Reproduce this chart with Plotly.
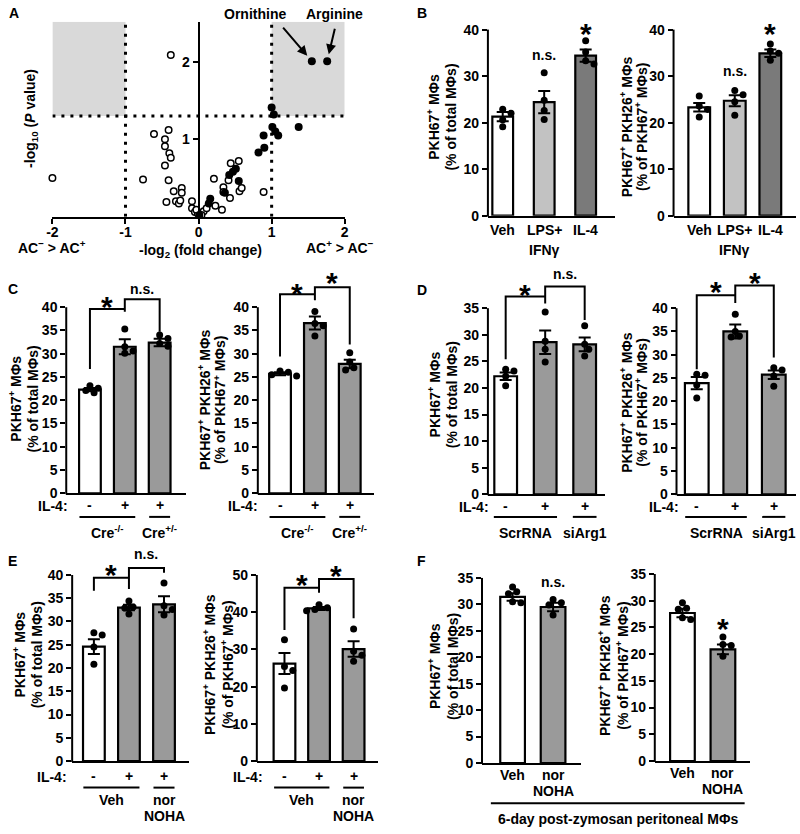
import plotly.graph_objects as go

W, H = 800, 834
FAM = "Liberation Sans, Arial, Helvetica, sans-serif"

# ---------------- Panel A data (volcano) ----------------
A_OPEN_X = [-0.38, -2.00, -0.61, -0.41, -0.46, -0.46, -0.40, -0.38, -0.46, -0.76,
            -0.41, -0.34, -0.23, -0.23, -0.44, -0.31, -0.27, -0.25, -0.09, -0.09,
            -0.05, -0.01, 0.07, 0.11, 0.21, 0.23, 0.32, 0.34, 0.34, 0.43,
            0.41, 0.44, 0.55, 0.56, 0.59, 0.89, 0.04, -0.03]
A_OPEN_Y = [2.09, 0.50, 1.07, 1.12, 1.00, 0.91, 0.82, 0.76, 0.66, 0.48,
            0.47, 0.33, 0.37, 0.31, 0.19, 0.20, 0.17, 0.21, 0.20, 0.11,
            0.06, 0.04, 0.07, 0.11, 0.49, 0.14, 0.09, 0.38, 0.32, 0.24,
            0.47, 0.69, 0.72, 0.33, 0.37, 0.32, 0.02, 0.09]
A_FILL_X = [1.55, 1.76, 1.00, 1.03, 1.01, 1.05, 1.09, 1.37, 0.89, 0.90, 0.82,
            0.42, 0.47, 0.51, 0.55, 0.36, 0.16, 0.14, 0.01]
A_FILL_Y = [2.01, 2.01, 1.41, 1.32, 1.16, 1.10, 1.05, 1.16, 1.05, 0.89, 0.83,
            0.54, 0.58, 0.62, 0.46, 0.31, 0.23, 0.17, 0.02]
A_X_TICKS = [-2, -1, 0, 1, 2]
A_X_TICKTEXT = ["-2", "-1", "0", "1", "2"]
A_Y_TICKS = [1, 2]
A_X_RANGE = [-2, 2]
A_Y_TOP = 2.52
A_P_CUT = 1.3
A_FC_CUT = 1.0
A_LABELED = [("Ornithine", 1.55, 2.01), ("Arginine", 1.76, 2.01)]

# ---------------- Bar panel data ----------------
B_CATS = ["Veh", "LPS+<br>IFNγ", "IL-4"]
B1_MEAN = [21.3, 24.4, 34.4]
B1_SEM = [1.0, 2.4, 1.3]
B1_PTS = [[22.9, 22.0, 20.6, 19.1], [30.7, 24.8, 22.6, 20.7], [37.6, 35.2, 33.3, 32.6]]
B2_MEAN = [23.3, 24.7, 34.9]
B2_SEM = [0.9, 1.2, 0.8]
B2_PTS = [[25.7, 23.6, 22.8, 21.2], [26.9, 26.0, 24.5, 21.6], [36.9, 35.4, 34.9, 33.4]]

IL4_CATS = ["-", "+", "+"]
C1_MEAN = [22.3, 31.5, 32.4]
C1_SEM = [0.35, 1.6, 0.8]
C1_PTS = [[23.1, 22.6, 22.1, 21.6], [35.3, 31.5, 30.6, 30.1], [34.0, 33.3, 32.2, 31.6]]
C2_MEAN = [25.7, 36.6, 27.8]
C2_SEM = [0.3, 1.4, 0.9]
C2_PTS = [[26.3, 26.0, 25.5, 25.2], [39.1, 36.5, 36.0, 33.8], [30.2, 28.2, 27.0, 26.5]]
D1_MEAN = [22.2, 28.6, 28.2]
D1_SEM = [0.7, 2.2, 1.3]
D1_PTS = [[23.5, 23.2, 22.2, 20.4], [34.3, 28.8, 27.3, 24.9], [31.7, 28.2, 27.3, 26.0]]
D2_MEAN = [23.9, 35.0, 25.7]
D2_SEM = [1.3, 1.5, 0.9]
D2_PTS = [[25.8, 25.6, 23.5, 20.7], [38.7, 35.0, 34.0, 33.8], [27.2, 26.7, 25.4, 23.2]]
E1_MEAN = [24.6, 33.0, 33.7]
E1_SEM = [1.6, 0.6, 1.7]
E1_PTS = [[27.6, 27.1, 24.5, 20.8], [34.4, 33.1, 32.9, 31.6], [38.3, 33.4, 32.6, 31.4]]
E2_MEAN = [26.2, 41.0, 30.1]
E2_SEM = [2.8, 0.4, 2.1]
E2_PTS = [[32.6, 25.4, 24.3, 19.6], [42.0, 41.2, 40.7, 40.4], [35.5, 29.5, 28.4, 26.8]]
F_CATS = ["Veh", "nor<br>NOHA"]
F1_MEAN = [31.4, 29.5]
F1_SEM = [0.7, 0.8]
F1_PTS = [[33.3, 32.4, 32.0, 30.5, 30.3], [30.9, 30.3, 29.9, 28.0]]
F2_MEAN = [27.7, 20.9]
F2_SEM = [0.8, 0.9]
F2_PTS = [[29.6, 28.6, 28.4, 26.8, 26.5], [23.2, 21.8, 21.6, 19.6]]

C_GROUPS = ["Cre<sup>-/-</sup>", "Cre<sup>+/-</sup>"]
D_GROUPS = ["ScrRNA", "siArg1"]
E_GROUPS = ["Veh", "nor<br>NOHA"]
T1 = ["PKH67<sup>+</sup> MΦs", "(% of total MΦs)"]
T2 = ["PKH67<sup>+</sup> PKH26<sup>+</sup> MΦs", "(% of PKH67<sup>+</sup> MΦs)"]

# ---------------- styles ----------------
WHITE, LIGHT, DARK, GRAY = "white", "#c2c2c2", "#7a7a7a", "#9a9a9a"
FONT14 = dict(family=FAM, size=14, color="black", weight="bold")


def xp(px):
    return px / W


def yp(py):
    return 1 - py / H


def aname(k, n):
    return k + ("axis" if n == 1 else f"axis{n}")


def rname(k, n):
    return k if n == 1 else f"{k}{n}"


fig = go.Figure()
layout = dict(width=W, height=H, autosize=False, margin=dict(l=0, r=0, t=0, b=0),
              paper_bgcolor="white", plot_bgcolor="rgba(0,0,0,0)", showlegend=False,
              font=dict(family=FAM, size=14, color="black", weight="bold"))
shapes, annos = [], []


def text(x, y, s, size=14, angle=0, xref="paper", yref="paper", **kw):
    d = dict(x=x, y=y, xref=xref, yref=yref, text=s, showarrow=False, textangle=angle,
             font=dict(family=FAM, size=size, color="black", weight="bold"),
             xanchor="center", yanchor="middle")
    d.update(kw)
    annos.append(d)


# ================= Panel A =================
AX_DOM = [xp(47), xp(343)]
layout["xaxis"] = dict(domain=AX_DOM, range=A_X_RANGE, anchor="y", showline=True, linewidth=2,
                       linecolor="black", ticks="outside", ticklen=5, tickwidth=2, tickcolor="black",
                       tickvals=A_X_TICKS, ticktext=A_X_TICKTEXT, showgrid=False, zeroline=False,
                       tickfont=FONT14, ticklabelstandoff=-3)
zero_pos = AX_DOM[0] + (0 - A_X_RANGE[0]) / (A_X_RANGE[1] - A_X_RANGE[0]) * (AX_DOM[1] - AX_DOM[0])
layout["yaxis"] = dict(domain=[yp(215), yp(17)], range=[0, A_Y_TOP], anchor="free", position=zero_pos,
                       showline=True, linewidth=2, linecolor="black", ticks="outside", ticklen=5,
                       tickwidth=2, tickcolor="black", tickvals=A_Y_TICKS, showgrid=False,
                       zeroline=False, tickfont=FONT14)
for x0, x1 in [(A_X_RANGE[0], -A_FC_CUT), (A_FC_CUT, A_X_RANGE[1])]:
    shapes.append(dict(type="rect", xref="x", yref="y", x0=x0, x1=x1, y0=A_P_CUT, y1=A_Y_TOP,
                       fillcolor="#d9d9d9", line=dict(width=0), layer="below"))
DOT = dict(color="black", width=3, dash="3px,6px")
for xv in (-A_FC_CUT, A_FC_CUT):
    shapes.append(dict(type="line", xref="x", yref="y", x0=xv, x1=xv, y0=0, y1=A_Y_TOP, line=DOT))
shapes.append(dict(type="line", xref="x", yref="y", x0=A_X_RANGE[0], x1=A_X_RANGE[1],
                   y0=A_P_CUT, y1=A_P_CUT, line=DOT))
fig.add_trace(go.Scatter(x=A_OPEN_X, y=A_OPEN_Y, mode="markers", xaxis="x", yaxis="y",
                         marker=dict(size=6.5, color="white", line=dict(color="black", width=1.5)),
                         cliponaxis=False, hoverinfo="skip"))
fig.add_trace(go.Scatter(x=A_FILL_X, y=A_FILL_Y, mode="markers", xaxis="x", yaxis="y",
                         marker=dict(size=8, color="black"), cliponaxis=False, hoverinfo="skip"))
arrow_off = [(-30, -35), (8, -34)]
label_px = [(252, 9), (333, 9)]
for (name, vx, vy), (ax_, ay_), (lx, ly) in zip(A_LABELED, arrow_off, label_px):
    annos.append(dict(x=vx, y=vy, xref="x", yref="y", text="", showarrow=True, ax=ax_, ay=ay_,
                      arrowhead=2, arrowsize=1, arrowwidth=2, arrowcolor="black", standoff=7))
    text(xp(lx), yp(ly), name)
text(xp(26), yp(115), "-log<sub>10</sub> (<i>P</i> value)", angle=-90)
text(xp(197), yp(250), "-log<sub>2</sub> (fold change)")
text(xp(47), yp(246), "AC<sup>−</sup> &gt; AC<sup>+</sup>")
text(xp(338), yp(246), "AC<sup>+</sup> &gt; AC<sup>−</sup>")


# ================= Bar panels =================
def swarm(vals, ppu, sp, d=7.0):
    placed, offs = [], []
    step = d * 0.6
    for v in vals:
        yv = v * ppu
        cands = [0.0]
        for k in range(1, 8):
            cands += [k * step, -k * step]
        chosen = cands[-1]
        for o in cands:
            if all((o - a) ** 2 + (yv - b) ** 2 >= (0.9 * d) ** 2 for a, b in placed):
                chosen = o
                break
        placed.append((chosen, yv))
        offs.append(chosen / sp)
    return offs


PANELS = [
    dict(n=2, mean=B1_MEAN, sem=B1_SEM, pts=B1_PTS, cats=B_CATS, colors=[WHITE, LIGHT, DARK],
         g=dict(yx=488, xend=617, c0=503, sp=42, bw=21, y0=214, yt=25, ytv=40, dt=10, top=10,
                row=14, lsp=20),
         title=T1, tx=(433, 451), ty=114, sig=[(1, 34.3, "n.s.", 0), (2, 40.4, "*", 0)]),
    dict(n=3, mean=B2_MEAN, sem=B2_SEM, pts=B2_PTS, cats=B_CATS, colors=[WHITE, LIGHT, DARK],
         g=dict(yx=676, xend=800, c0=702, sp=36, bw=22, y0=214, yt=25, ytv=40, dt=10, top=10,
                row=14, lsp=20),
         title=T2, tx=(628, 643), ty=124, sig=[(1, 30.9, "n.s.", 0), (2, 40.4, "*", 0)]),
    dict(n=4, mean=C1_MEAN, sem=C1_SEM, pts=C1_PTS, cats=IL4_CATS, colors=[WHITE, GRAY, GRAY],
         g=dict(yx=61, xend=182, c0=85, sp=35.3, bw=22, y0=496, yt=307, ytv=40, dt=5, top=265,
                row=12, lsp=16),
         title=T1, tx=(9, 27), ty=400,
         br=dict(yb1=39.6, yb2=41.7, ll=26.7, lm=39.0, lr=34.7),
         sig=[(0.5, 39.6, "*", 9), (1.5, 41.7, "n.s.", 9)],
         grp=dict(names=C_GROUPS, il4=-37, line=24, lab=39)),
    dict(n=5, mean=C2_MEAN, sem=C2_SEM, pts=C2_PTS, cats=IL4_CATS, colors=[WHITE, GRAY, GRAY],
         g=dict(yx=255, xend=373, c0=277.5, sp=35.3, bw=22, y0=496, yt=307, ytv=40, dt=5, top=265,
                row=12, lsp=16),
         title=T2, tx=(200, 216), ty=401,
         br=dict(yb1=42.8, yb2=44.3, ll=29.4, lm=41.5, lr=32.0),
         sig=[(0.5, 42.8, "*", 7), (1.5, 44.3, "*", 11)],
         grp=dict(names=C_GROUPS, il4=-37, line=24, lab=39)),
    dict(n=6, mean=D1_MEAN, sem=D1_SEM, pts=D1_PTS, cats=IL4_CATS, colors=[WHITE, GRAY, GRAY],
         g=dict(yx=488, xend=607, c0=506, sp=40, bw=23, y0=497, yt=308, ytv=35, dt=5, top=265,
                row=12, lsp=16),
         title=T1, tx=(433, 451), ty=396,
         br=dict(yb1=37.2, yb2=39.1, ll=25.4, lm=35.9, lr=32.8),
         sig=[(0.5, 37.2, "*", 8), (1.5, 39.1, "n.s.", 11)],
         grp=dict(names=D_GROUPS, il4=-32, line=23, lab=39)),
    dict(n=7, mean=D2_MEAN, sem=D2_SEM, pts=D2_PTS, cats=IL4_CATS, colors=[WHITE, GRAY, GRAY],
         g=dict(yx=679, xend=800, c0=699.5, sp=39, bw=24, y0=497, yt=308, ytv=40, dt=5, top=265,
                row=12, lsp=16),
         title=T2, tx=(628, 643), ty=404,
         br=dict(yb1=42.8, yb2=44.9, ll=26.9, lm=41.1, lr=29.4),
         sig=[(0.5, 42.8, "*", 10), (1.5, 44.9, "*", 9)],
         grp=dict(names=D_GROUPS, il4=-33, line=23, lab=39)),
    dict(n=8, mean=E1_MEAN, sem=E1_SEM, pts=E1_PTS, cats=IL4_CATS, colors=[WHITE, GRAY, GRAY],
         g=dict(yx=67, xend=185, c0=89, sp=35.5, bw=22, y0=768, yt=579, ytv=40, dt=5, top=550,
                row=15, lsp=16),
         title=T1, tx=(13, 31), ty=660,
         br=dict(yb1=39.4, yb2=41.5, ll=36.6, lm=37.0, lr=40.5),
         sig=[(0.5, 39.4, "*", 9), (1.5, 41.5, "n.s.", 13)],
         grp=dict(names=E_GROUPS, il4=-42, line=27, lab=39)),
    dict(n=9, mean=E2_MEAN, sem=E2_SEM, pts=E2_PTS, cats=IL4_CATS, colors=[WHITE, GRAY, GRAY],
         g=dict(yx=254, xend=377, c0=282, sp=35, bw=22, y0=768, yt=579, ytv=50, dt=10, top=550,
                row=15, lsp=16),
         title=T2, tx=(205, 223), ty=670,
         br=dict(yb1=46.6, yb2=48.9, ll=35.2, lm=45.2, lr=38.4),
         sig=[(0.5, 46.6, "*", 9), (1.5, 48.9, "*", 10)],
         grp=dict(names=E_GROUPS, il4=-37, line=27, lab=39)),
    dict(n=10, mean=F1_MEAN, sem=F1_SEM, pts=F1_PTS, cats=F_CATS, colors=[WHITE, GRAY],
         g=dict(yx=482, xend=582, c0=513, sp=41, bw=25, y0=770, yt=582, ytv=35, dt=5, top=575,
                row=12, lsp=16),
         title=T1, tx=(433, 452), ty=672, sig=[(1, 34.1, "n.s.", 0)]),
    dict(n=11, mean=F2_MEAN, sem=F2_SEM, pts=F2_PTS, cats=F_CATS, colors=[WHITE, GRAY],
         g=dict(yx=657, xend=753, c0=685, sp=41, bw=25, y0=768, yt=578, ytv=35, dt=5, top=575,
                row=12, lsp=16),
         title=T2, tx=(605, 623), ty=671, sig=[(1, 25.9, "*", 0)]),
]

for p in PANELS:
    n, g = p["n"], p["g"]
    xr_, yr_ = rname("x", n), rname("y", n)
    ppu = (g["y0"] - g["yt"]) / g["ytv"]
    rtop = (g["y0"] - g["top"]) / ppu
    ncat = len(p["mean"])
    cats_x = list(range(ncat))
    layout[aname("x", n)] = dict(
        domain=[xp(g["yx"]), xp(g["xend"])],
        range=[(g["yx"] - g["c0"]) / g["sp"], (g["xend"] - g["c0"]) / g["sp"]],
        anchor=yr_, showline=True, linewidth=2, linecolor="black", ticks="",
        tickvals=cats_x, showticklabels=False, showgrid=False, zeroline=False)
    layout[aname("y", n)] = dict(
        domain=[yp(g["y0"]), yp(g["top"])], range=[0, rtop], anchor=xr_, showline=False,
        ticks="outside", ticklen=5, tickwidth=2, tickcolor="black",
        tickvals=list(range(0, g["ytv"] + 1, g["dt"])), tickfont=FONT14,
        showgrid=False, zeroline=False)
    # y-axis spine (stops at top tick)
    shapes.append(dict(type="line", xref="paper", yref="paper", x0=xp(g["yx"]), x1=xp(g["yx"]),
                       y0=yp(g["y0"] + 1), y1=yp(g["yt"]), line=dict(color="black", width=2)))
    fig.add_trace(go.Bar(x=cats_x, y=p["mean"], width=g["bw"] / g["sp"], xaxis=xr_, yaxis=yr_,
                         marker=dict(color=p["colors"], line=dict(color="black", width=2.2)),
                         error_y=dict(type="data", array=p["sem"], visible=True, color="black",
                                      thickness=2, width=6),
                         hoverinfo="skip"))
    dx, dy = [], []
    for i, vals in enumerate(p["pts"]):
        offs = swarm(vals, ppu, g["sp"])
        dx += [i + o for o in offs]
        dy += vals
    fig.add_trace(go.Scatter(x=dx, y=dy, mode="markers", xaxis=xr_, yaxis=yr_,
                             marker=dict(size=7, color="black"), cliponaxis=False, hoverinfo="skip"))
    # category labels under the x axis
    for i, lab in enumerate(p["cats"]):
        for k, part in enumerate(lab.split("<br>")):
            text(i, 0, part, xref=xr_, yref=yr_, yshift=-(g["row"] + g["lsp"] * k))
    if "br" in p:
        b = p["br"]
        for path in (f"M 0,{b['ll']} L 0,{b['yb1']} L 1,{b['yb1']}",
                     f"M 1,{b['lm']} L 1,{b['yb2']} L 2,{b['yb2']} L 2,{b['lr']}"):
            shapes.append(dict(type="path", xref=xr_, yref=yr_, path=path,
                               line=dict(color="black", width=2)))
    for cx, v, s, lift in p["sig"]:
        if s == "*":
            size, shift = 30, lift - 6
        else:
            size, shift = 14, lift + 1
        text(cx, v, s, size=size, xref=xr_, yref=yr_, yshift=shift)
    for xpix, line in zip(p["tx"], p["title"]):
        text(xp(xpix), yp(p["ty"]), line, angle=-90)
    if "grp" in p:
        gr = p["grp"]
        text(xp(g["c0"] + gr["il4"]), 0, "IL-4:", yref=yr_, yshift=-(g["row"] + 1))
        for (a, bb), name in zip([(0, 1), (2, 2)], gr["names"]):
            x0px = g["c0"] + g["sp"] * (a - 0.3)
            x1px = g["c0"] + g["sp"] * (bb + 0.3)
            yl = yp(g["y0"] + gr["line"])
            shapes.append(dict(type="line", xref="paper", yref="paper", x0=xp(x0px), x1=xp(x1px),
                               y0=yl, y1=yl, line=dict(color="black", width=2)))
            for k, part in enumerate(name.split("<br>")):
                text((a + bb) / 2, 0, part, xref=xr_, yref=yr_, yshift=-(gr["lab"] + 16 * k))

# Panel F common label
shapes.append(dict(type="line", xref="paper", yref="paper", x0=xp(491), x1=xp(748),
                   y0=yp(811), y1=yp(811), line=dict(color="black", width=2)))
text(xp(620), yp(827), "6-day post-zymosan peritoneal MΦs")

# panel letters
for L, (lx, ly) in zip("ABCDEF", [(8, 8), (421, 8), (7, 288), (421, 290), (7, 565), (421, 565)]):
    text(xp(lx), yp(ly), L)

layout["shapes"] = shapes
layout["annotations"] = annos
fig.update_layout(**layout)
fig.write_html("out.html", config={"displayModeBar": False, "staticPlot": True},
               post_script="document.body.style.margin='0px';document.body.style.overflow='hidden';")
